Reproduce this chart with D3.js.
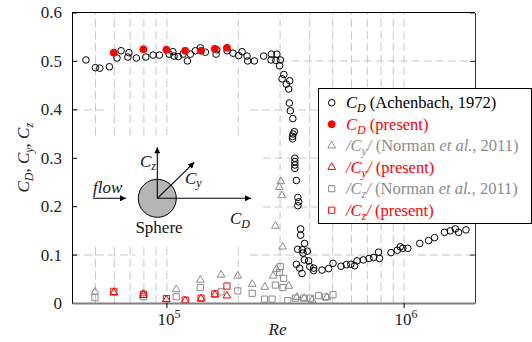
<!DOCTYPE html>
<html>
<head>
<meta charset="utf-8">
<script src="https://cdn.jsdelivr.net/npm/d3@7"></script>
<style>
    body { margin: 0; background: #fff; }
    svg, svg text { font-family: "Liberation Serif", "DejaVu Serif", "Times New Roman", serif; }
</style>
</head>
<body>
<div id="chart"></div>
<script>
// Achenbach (1972) drag coefficient, Re in thousands
const achenbachRe = [45.8, 50.2, 52.4, 57.5, 61.9, 64.4, 68.8, 69.5, 74.7, 81.9, 87.9, 93.4, 102.7, 106.5, 107.7,
    112.3, 117.6, 122.6, 126.2, 132.5, 139.1, 146.0, 162.0, 163.0, 180.3, 191.0, 201.7, 208.4, 218.8, 220.1, 234.9,
    257.0, 277.0, 276.2, 292.3, 289.4, 302.3, 300.2, 312.7, 307.3, 330.9, 320.5, 327.7, 329.9, 333.1, 341.3, 346.3,
    342.0, 340.3, 340.3, 348, 348, 348, 348, 353.1, 358.3, 361.1, 358.3, 368.1, 368.1, 382.3, 357.6, 374.2, 392.8,
    376.9, 353.1, 364.5, 373.1, 381.5, 397.8, 402.4, 417.5, 417.5, 452.9, 483.1, 504.2, 544.8, 573.5, 599.2, 621.7,
    636.4, 676.5, 714.9, 747.5, 784.5, 791.4, 884.9, 940.8, 968.5, 992.2, 1042, 1170, 1275, 1351, 1487, 1573, 1652,
    1705, 1832];
const achenbachCd = [0.502, 0.486, 0.485, 0.488, 0.506, 0.521, 0.508, 0.517, 0.506, 0.508, 0.512, 0.512, 0.514, 0.519,
    0.510, 0.509, 0.514, 0.500, 0.514, 0.521, 0.527, 0.518, 0.514, 0.523, 0.521, 0.516, 0.511, 0.519, 0.510, 0.500,
    0.500, 0.510, 0.514, 0.502, 0.514, 0.501, 0.502, 0.490, 0.472, 0.463, 0.459, 0.452, 0.442, 0.413, 0.397, 0.381,
    0.354, 0.349, 0.344, 0.339, 0.299, 0.292, 0.285, 0.278, 0.253, 0.218, 0.209, 0.201, 0.153, 0.140, 0.123, 0.111,
    0.110, 0.107, 0.103, 0.080, 0.072, 0.061, 0.089, 0.087, 0.075, 0.072, 0.067, 0.068, 0.071, 0.082, 0.076, 0.079,
    0.080, 0.077, 0.087, 0.089, 0.092, 0.094, 0.105, 0.092, 0.104, 0.109, 0.116, 0.113, 0.113, 0.123, 0.129, 0.135,
    0.146, 0.149, 0.153, 0.146, 0.151];

// present simulations
const presentRe = [60, 80, 100, 120, 140, 160, 180];
const presentCd = [0.517, 0.524, 0.523, 0.521, 0.521, 0.525, 0.527];
const presentCy = [0.021, 0.016, 0.007, 0.005, 0.009, 0.017, 0.015];
const presentCz = [0.024, 0.018, 0.009, 0.006, 0.010, 0.019, 0.035];

// Norman et al. (2011)
const normanCyRe = [50, 80, 110, 139, 170, 200, 230, 260, 282, 288, 291, 299, 304, 307, 309, 328, 355, 381, 411, 475];
const normanCy = [0.023, 0.020, 0.028, 0.0475, 0.058, 0.056, 0.039, 0.033, 0.056, 0.159, 0.070, 0.239, 0.251, 0.222,
    0.116, 0.035, 0.012, 0.010, 0.006, 0.012];
const normanCzRe = [50, 80, 110, 139, 170, 200, 230, 259, 279, 288, 300, 302, 312, 310, 325, 350, 379, 405, 438, 468, 504];
const normanCz = [0.011, 0.013, 0.013, 0.032, 0.023, 0.025, 0.020, 0.008, 0.008, 0.037, 0.063, 0.075, 0.051, 0.032,
    0.005, 0.010, 0.010, 0.010, 0.015, 0.012, 0.017];

const xDomain = [4e4, 2e6];
const xTickValues = [1e5, 1e6];
const xTickExponents = ['5', '6'];
const xGridValues = [5e4, 6e4, 7e4, 8e4, 9e4, 1e5, 2e5, 3e5, 4e5, 5e5, 6e5, 7e5, 8e5, 9e5, 1e6];
const yTickValues = [0, 0.1, 0.2, 0.3, 0.4, 0.5, 0.6];
const yTickLabels = ['0', '0.1', '0.2', '0.3', '0.4', '0.5', '0.6'];
// horizontal grid lines only show over parts of the Re range
const yGridValues = [0.1, 0.2, 0.3, 0.4, 0.5];
const yGridSpans = [
    [[4e4, 7.4e4], [2.25e5, 2e6]],
    [[2.55e5, 2e6]],
    [[2.55e5, 2e6]],
    [[4e4, 5.5e4], [2.25e5, 2e6]],
    [[4e4, 4.3e4], [3e5, 2e6]],
];

const serif = '"Liberation Serif", "DejaVu Serif", "Times New Roman", serif';
const red = '#ff0000';
const grey = '#8c8c8c';
const gridColour = '#c8c8c8';

const totalWidth = 532;
const totalHeight = 342;
const margin = { top: 12.5, right: 57, bottom: 39, left: 72 };
const width = totalWidth - margin.left - margin.right;
const height = totalHeight - margin.top - margin.bottom;

const root = d3.select('#chart')
    .append('svg')
    .attr('width', totalWidth)
    .attr('height', totalHeight)
    .attr('font-family', serif);

root.append('defs')
    .append('marker')
    .attr('id', 'arrow')
    .attr('viewBox', '0 0 10 10')
    .attr('refX', 10)
    .attr('refY', 5)
    .attr('markerUnits', 'userSpaceOnUse')
    .attr('markerWidth', 8)
    .attr('markerHeight', 6)
    .attr('orient', 'auto')
    .append('path')
    .attr('d', 'M0,0L10,5L0,10z')
    .attr('fill', '#000');

const svg = root.append('g')
    .attr('transform', 'translate(' + margin.left + ',' + margin.top + ')');

const x = d3.scaleLog().domain(xDomain).range([0, width]);
const y = d3.scaleLinear().domain([0, 0.6]).range([height, 0]);

const toPoints = (re, vals, k) => re.map((r, i) => ({ re: r * k, v: vals[i] }));

// grid
const xGrid = svg.append('g')
    .attr('transform', 'translate(0,' + height + ')')
    .call(d3.axisBottom(x).tickValues(xGridValues).tickSize(-height).tickFormat(''));
xGrid.select('.domain').remove();
xGrid.selectAll('line')
    .attr('stroke', gridColour)
    .attr('stroke-dasharray', '8,4');

const hSegments = yGridValues.flatMap((v, i) => yGridSpans[i].map((s) => ({ v, from: s[0], to: s[1] })));
svg.append('g')
    .selectAll('line')
    .data(hSegments)
    .join('line')
    .attr('x1', (d) => x(d.from))
    .attr('x2', (d) => x(d.to))
    .attr('y1', (d) => Math.round(y(d.v)) + 0.5)
    .attr('y2', (d) => Math.round(y(d.v)) + 0.5)
    .attr('stroke', gridColour)
    .attr('stroke-dasharray', '8,4');

// white panel behind the sketch
svg.append('rect')
    .attr('x', 1)
    .attr('y', 125.5)
    .attr('width', 189)
    .attr('height', 105)
    .attr('fill', '#fff');

// markers
const triangle = d3.symbol().type(d3.symbolTriangle).size(26);
const square = d3.symbol().type(d3.symbolSquare).size(38);

function drawCircles(points, colour, filled) {
    svg.append('g')
        .selectAll('circle')
        .data(points)
        .join('circle')
        .attr('cx', (d) => x(d.re))
        .attr('cy', (d) => y(d.v))
        .attr('r', filled ? 3.5 : 3.3)
        .attr('fill', filled ? colour : 'none')
        .attr('stroke', colour)
        .attr('stroke-width', 1);
}

function drawSymbols(points, symbol, colour) {
    svg.append('g')
        .selectAll('path')
        .data(points)
        .join('path')
        .attr('transform', (d) => 'translate(' + x(d.re) + ',' + y(d.v) + ')')
        .attr('d', symbol)
        .attr('fill', 'none')
        .attr('stroke', colour)
        .attr('stroke-width', 1);
}

drawSymbols(toPoints(normanCzRe, normanCz, 1e3), square, grey);
drawSymbols(toPoints(normanCyRe, normanCy, 1e3), triangle, grey);
drawCircles(toPoints(achenbachRe, achenbachCd, 1e3), '#000', false);
drawSymbols(toPoints(presentRe, presentCz, 1e3), square, red);
drawSymbols(toPoints(presentRe, presentCy, 1e3), triangle, red);
drawCircles(toPoints(presentRe, presentCd, 1e3), red, true);

// axes / frame
const left = svg.append('g')
    .call(d3.axisLeft(y).tickValues(yTickValues).tickSizeInner(-5).tickSizeOuter(0).tickPadding(10)
        .tickFormat((d, i) => yTickLabels[i]))
    .attr('font-family', serif)
    .attr('font-size', 17);
left.selectAll('text').attr('fill', '#222');
left.select('.domain').attr('stroke', '#000');

const right = svg.append('g')
    .attr('transform', 'translate(' + width + ',0)')
    .call(d3.axisRight(y).tickValues(yTickValues).tickSizeInner(-5).tickSizeOuter(0).tickFormat(''));
right.selectAll('line, .domain').attr('stroke', '#333');

svg.append('line')
    .attr('x1', 0).attr('x2', width)
    .attr('y1', 0).attr('y2', 0)
    .attr('stroke', '#000');

const bottom = svg.append('g')
    .attr('transform', 'translate(0,' + height + ')')
    .call(d3.axisBottom(x).tickValues(xTickValues).tickSizeInner(5).tickSizeOuter(0).tickFormat(''))
    .attr('font-family', serif);
bottom.select('.domain').attr('stroke', '#808080').attr('stroke-width', 2);
bottom.selectAll('line').attr('stroke', '#000');

const xLabels = bottom.selectAll('g.tick')
    .append('text')
    .attr('x', 2)
    .attr('y', 21.5)
    .attr('text-anchor', 'middle')
    .attr('font-size', 17)
    .attr('fill', '#222');
xLabels.append('tspan').text('10');
xLabels.append('tspan')
    .attr('dy', -7)
    .attr('font-size', 12)
    .text((d, i) => xTickExponents[i]);

svg.append('text')
    .attr('x', width / 2 + 4)
    .attr('y', height + 32)
    .attr('text-anchor', 'middle')
    .attr('font-size', 17)
    .attr('font-style', 'italic')
    .attr('fill', '#222')
    .text('Re');

function subLabel(sel, main, sub, subSize, subDy) {
    sel.append('tspan').text(main);
    sel.append('tspan').attr('font-size', subSize).attr('dy', subDy).text(sub);
    return sel;
}

// y-axis title
const yTitle = root.append('text')
    .attr('transform', 'translate(29,' + (margin.top + height / 2) + ') rotate(-90)')
    .attr('text-anchor', 'middle')
    .attr('font-size', 17)
    .attr('font-style', 'italic')
    .attr('fill', '#222');
yTitle.append('tspan').text('C');
yTitle.append('tspan').attr('font-size', 12).attr('dy', 4).text('D');
yTitle.append('tspan').attr('dy', -4).attr('font-style', 'normal').text(', ');
yTitle.append('tspan').text('C');
yTitle.append('tspan').attr('font-size', 12).attr('dy', 4).text('y');
yTitle.append('tspan').attr('dy', -4).attr('font-style', 'normal').text(', ');
yTitle.append('tspan').text('C');
yTitle.append('tspan').attr('font-size', 12).attr('dy', 4).text('z');

// sketch of sphere and force directions
const cx = 157.3 - margin.left;
const cy = 198.3 - margin.top;
const sketch = svg.append('g');
sketch.append('circle')
    .attr('cx', cx).attr('cy', cy).attr('r', 19)
    .attr('fill', '#b5b5b5').attr('stroke', '#000').attr('stroke-width', 1);
const arrows = [
    [93 - margin.left, cy, 126 - margin.left, cy],
    [cx, cy, cx, cy - 51],
    [cx, cy, cx + 37, cy - 36],
    [cx, cy, 251 - margin.left, cy],
];
sketch.selectAll('line')
    .data(arrows)
    .join('line')
    .attr('x1', (d) => d[0]).attr('y1', (d) => d[1])
    .attr('x2', (d) => d[2]).attr('y2', (d) => d[3])
    .attr('stroke', '#000').attr('stroke-width', 1.1)
    .attr('marker-end', 'url(#arrow)');

sketch.append('text')
    .attr('x', 93 - margin.left).attr('y', 193 - margin.top)
    .attr('font-size', 17).attr('font-style', 'italic').attr('fill', '#111')
    .text('flow');
subLabel(sketch.append('text')
    .attr('x', 140 - margin.left).attr('y', 167 - margin.top)
    .attr('font-size', 17).attr('font-style', 'italic').attr('fill', '#111'), 'C', 'z', 12, 3);
subLabel(sketch.append('text')
    .attr('x', 185 - margin.left).attr('y', 184 - margin.top)
    .attr('font-size', 17).attr('font-style', 'italic').attr('fill', '#111'), 'C', 'y', 12, 3);
subLabel(sketch.append('text')
    .attr('x', 230 - margin.left).attr('y', 224 - margin.top)
    .attr('font-size', 17).attr('font-style', 'italic').attr('fill', '#111'), 'C', 'D', 12, 4);
sketch.append('text')
    .attr('x', 159 - margin.left).attr('y', 233 - margin.top)
    .attr('text-anchor', 'middle')
    .attr('font-size', 17).attr('fill', '#111')
    .text('Sphere');

// legend
const legendRows = [
    { kind: 'circle', colour: '#000', filled: false, parts: [['C', 'i'], ['D', 'sub'], [' (Achenbach, 1972)', 'n']] },
    { kind: 'circle', colour: red, filled: true, parts: [['C', 'i'], ['D', 'sub'], [' (present)', 'n']] },
    { kind: 'triangle', colour: grey, parts: [['/C', 'i'], ['y', 'sub'], ['/', 'i'], [' (Norman ', 'n'], ['et al.', 'i'], [', 2011)', 'n']] },
    { kind: 'triangle', colour: red, parts: [['/C', 'i'], ['y', 'sub'], ['/', 'i'], [' (present)', 'n']] },
    { kind: 'square', colour: grey, parts: [['/C', 'i'], ['z', 'sub'], ['/', 'i'], [' (Norman ', 'n'], ['et al.', 'i'], [', 2011)', 'n']] },
    { kind: 'square', colour: red, parts: [['/C', 'i'], ['z', 'sub'], ['/', 'i'], [' (present)', 'n']] },
];

const legend = root.append('g').attr('transform', 'translate(318,88)');
legend.append('rect')
    .attr('x', 0.5).attr('y', 0.5)
    .attr('width', 213).attr('height', 135)
    .attr('fill', '#fff').attr('stroke', '#000').attr('stroke-width', 1);

const rowStep = 21.5;
legendRows.forEach((row, i) => {
    const ry = 14.7 + i * rowStep;
    if (row.kind === 'circle') {
        legend.append('circle')
            .attr('cx', 13.7).attr('cy', ry).attr('r', row.filled ? 3.5 : 3.3)
            .attr('fill', row.filled ? row.colour : 'none')
            .attr('stroke', row.colour);
    } else {
        legend.append('path')
            .attr('transform', 'translate(13.7,' + ry + ')')
            .attr('d', row.kind === 'triangle' ? triangle() : square())
            .attr('fill', 'none')
            .attr('stroke', row.colour);
    }
    const t = legend.append('text')
        .attr('x', 28).attr('y', ry + 5.5)
        .attr('font-size', 16.5)
        .attr('fill', row.colour);
    let lowered = false;
    row.parts.forEach(([str, style]) => {
        const span = t.append('tspan').text(str);
        if (style === 'sub') {
            span.attr('font-size', 12).attr('font-style', 'italic').attr('dy', 4);
            lowered = true;
        } else {
            if (lowered) {
                span.attr('dy', -4);
                lowered = false;
            }
            if (style === 'i') span.attr('font-style', 'italic');
        }
    });
});
</script>
</body>
</html>
